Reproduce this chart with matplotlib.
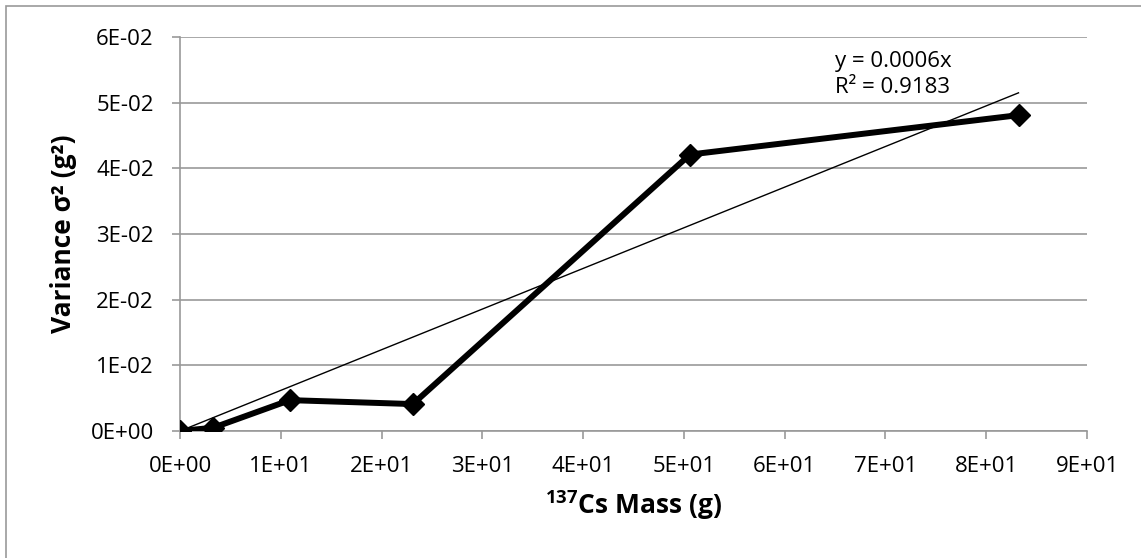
import numpy as np
import matplotlib.pyplot as plt
from matplotlib.ticker import FuncFormatter, MultipleLocator
from matplotlib.patches import Rectangle

# values
mass_g = [0.0, 3.3, 10.9, 23.1, 50.6, 83.2]
variance = [0.0, 0.0005, 0.0047, 0.0041, 0.0421, 0.0481]
eq_text = "y = 0.0006x"
r2_text = "R\u00b2 = 0.9183"

plt.rcParams['font.family'] = ['Open Sans', 'DejaVu Sans']
plt.rcParams['mathtext.fontset'] = 'custom'
plt.rcParams['mathtext.rm'] = 'Open Sans'
plt.rcParams['mathtext.bf'] = 'Open Sans:bold'

fig = plt.figure(figsize=(11.41, 5.58), dpi=100)
ax = fig.add_axes([0.1578, 0.2276, 0.7949, 0.7061])

x = np.array(mass_g)
y = np.array(variance)
ax.plot(x, y, color='black', lw=4.3, marker='D', ms=11, zorder=3, solid_joinstyle='miter')

# linear trendline through origin
b = np.sum(x * y) / np.sum(x * x)
xt = np.array([0, x.max()])
ax.plot(xt, b * xt, color='black', lw=1.0, zorder=4)

ax.text(65.0, 0.0554, eq_text, fontsize=16, va='baseline', ha='left')
ax.text(65.0, 0.0515, r2_text, fontsize=16, va='baseline', ha='left')

ax.set_xlim(0, 90)
ax.set_ylim(0, 0.06)
ax.xaxis.set_major_locator(MultipleLocator(10))
ax.yaxis.set_major_locator(MultipleLocator(0.01))
fmt = FuncFormatter(lambda v, p: f"{v:.0E}")
ax.xaxis.set_major_formatter(fmt)
ax.yaxis.set_major_formatter(fmt)

ax.grid(axis='y', color='#999999', lw=1.2)
ax.set_axisbelow(True)
for s in ['top', 'right']:
    ax.spines[s].set_visible(False)
for s in ['left', 'bottom']:
    ax.spines[s].set_color('#999999')
    ax.spines[s].set_linewidth(1.2)
ax.tick_params(colors='#999999', labelcolor='black', labelsize=16, length=6, width=1.2)
ax.tick_params(axis='x', pad=12)
ax.tick_params(axis='y', pad=13)

ax.set_xlabel(r"$\mathbf{^{137}}$Cs Mass (g)", fontsize=19, fontweight='bold', labelpad=8)
ax.set_ylabel("Variance \u03c3\u00b2 (g\u00b2)", fontsize=19, fontweight='bold', labelpad=10)

fig.patches.append(Rectangle((6 / 1141, -0.05), 1.2, 1.05 - 6 / 558, transform=fig.transFigure,
                             fill=False, edgecolor='#999999', lw=1.2))

fig.savefig('out.png', dpi=100)
